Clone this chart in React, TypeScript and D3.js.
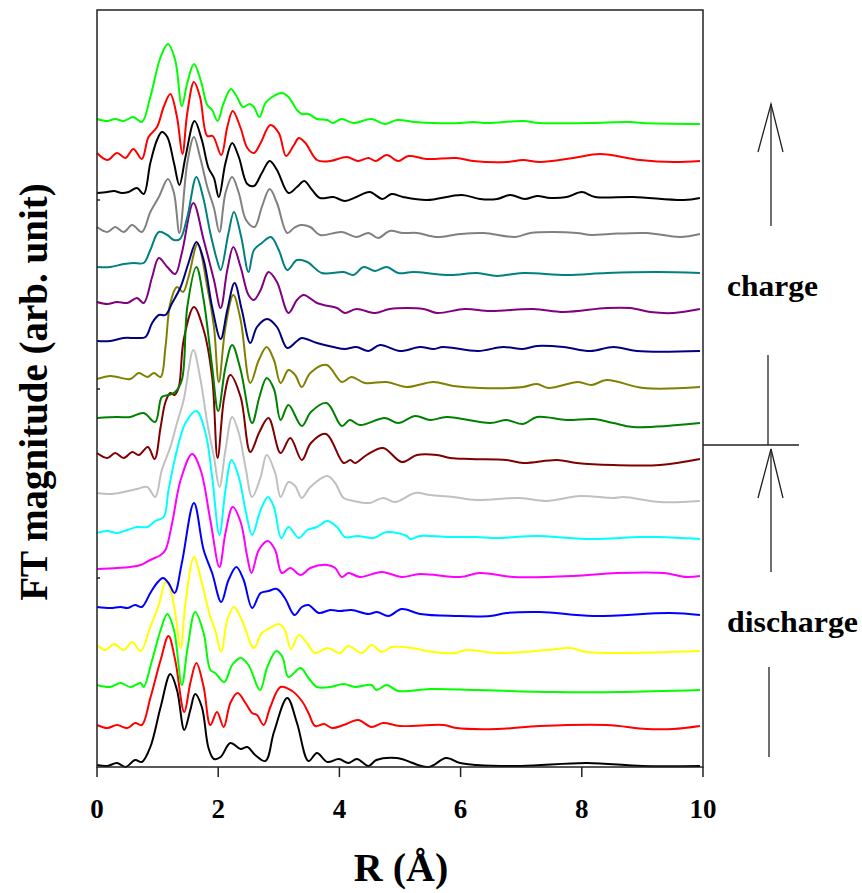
import React from "react";
import * as d3 from "d3";

type Pt = [number, number];

// R (Å) vs stacked FT magnitude (arb. unit), bottom curve first
const discharge1: Pt[] = [[0,2],[0.17,1],[0.33,4],[0.47,0],[0.63,7],[0.74,5],[0.88,20],[1.05,60],[1.21,93],[1.32,77],[1.44,37],[1.54,57],[1.62,73],[1.73,60],[1.84,19],[1.93,8],[2.04,10],[2.2,24],[2.37,18],[2.48,20],[2.61,12],[2.78,6],[2.92,35],[3.14,69],[3.3,44],[3.49,6],[3.63,14],[3.8,5],[3.99,8],[4.15,4],[4.29,8],[4.48,1],[4.61,7],[4.95,9],[5.47,0],[5.76,9],[5.99,4],[6.26,2],[7.0,1],[8.08,4],[9.0,1],[9.95,1]];
const discharge2: Pt[] = [[0,42],[0.17,39],[0.33,42],[0.5,39],[0.63,44],[0.74,42],[0.88,69],[1.05,107],[1.18,131],[1.29,107],[1.44,55],[1.54,84],[1.64,104],[1.76,80],[1.87,42],[1.98,55],[2.09,40],[2.2,64],[2.32,74],[2.45,64],[2.56,54],[2.64,52],[2.75,42],[2.86,60],[3.03,80],[3.22,76],[3.38,66],[3.49,54],[3.6,41],[3.75,43],[3.88,39],[4.07,42],[4.31,47],[4.53,40],[4.72,44],[5.0,41],[5.72,42],[5.93,39],[6.6,38],[7.31,41],[8.41,42],[9.07,38],[9.51,38],[9.95,41]];
const discharge3: Pt[] = [[0,82],[0.22,80],[0.39,84],[0.55,80],[0.72,84],[0.77,80],[0.91,107],[1.05,137],[1.16,153],[1.27,137],[1.4,82],[1.49,117],[1.62,155],[1.76,134],[1.87,97],[1.95,94],[2.1,85],[2.23,102],[2.37,109],[2.5,102],[2.69,77],[2.81,100],[2.96,116],[3.06,110],[3.16,90],[3.36,99],[3.49,89],[3.63,80],[3.85,80],[4.07,83],[4.26,80],[4.53,82],[4.61,77],[4.78,82],[4.97,76],[5.5,78],[6.26,77],[7.53,75],[8.63,75],[9.95,77]];
const discharge4: Pt[] = [[0,122],[0.14,117],[0.28,123],[0.44,117],[0.58,125],[0.72,116],[0.88,140],[1.02,162],[1.13,185],[1.2,180],[1.29,154],[1.38,119],[1.46,164],[1.6,210],[1.73,184],[1.87,150],[1.95,137],[2.05,115],[2.15,147],[2.26,160],[2.39,147],[2.59,119],[2.72,134],[2.86,139],[3.0,143],[3.1,137],[3.2,118],[3.33,132],[3.44,126],[3.6,114],[3.8,119],[4.01,114],[4.15,121],[4.37,114],[4.53,122],[4.7,115],[4.86,120],[5.19,119],[5.55,115],[5.91,114],[6.1,117],[6.6,114],[7.42,117],[7.81,119],[8.08,115],[9.95,116]];
const discharge5: Pt[] = [[0,160],[0.22,159],[0.39,160],[0.5,159],[0.63,162],[0.74,160],[0.88,174],[0.99,184],[1.09,189],[1.18,184],[1.28,174],[1.4,204],[1.6,264],[1.76,217],[1.9,194],[2.05,165],[2.17,187],[2.3,200],[2.42,187],[2.56,159],[2.7,174],[2.83,176],[2.97,178],[3.1,169],[3.26,152],[3.38,160],[3.49,162],[3.66,154],[3.85,157],[4.01,156],[4.2,157],[4.48,153],[4.62,155],[4.81,151],[5.03,158],[5.33,153],[5.91,151],[6.49,151],[6.76,154],[7.31,155],[8.19,151],[9.46,154],[9.95,152]];
const discharge6: Pt[] = [[0,198],[0.33,199],[0.55,200],[0.72,202],[0.88,207],[1.05,212],[1.13,217],[1.24,244],[1.38,287],[1.57,313],[1.71,297],[1.87,247],[2.02,200],[2.12,234],[2.24,260],[2.37,245],[2.48,210],[2.55,194],[2.67,217],[2.82,226],[2.94,217],[3.05,194],[3.19,199],[3.36,192],[3.52,199],[3.8,202],[3.93,199],[4.04,190],[4.15,194],[4.34,190],[4.7,195],[5.03,190],[5.33,193],[5.99,190],[6.32,194],[6.87,190],[7.86,191],[8.58,194],[9.35,194],[9.73,190],[9.95,191]];
const discharge7: Pt[] = [[0,234],[0.17,236],[0.33,234],[0.5,237],[0.66,240],[0.83,240],[0.96,246],[1.1,250],[1.18,277],[1.32,317],[1.46,344],[1.64,356],[1.79,334],[1.9,290],[2.02,232],[2.12,277],[2.22,307],[2.34,290],[2.46,254],[2.56,232],[2.7,257],[2.82,270],[2.92,260],[3.04,229],[3.16,240],[3.33,229],[3.47,237],[3.63,240],[3.8,246],[3.96,240],[4.09,230],[4.3,231],[4.56,229],[4.78,235],[5.11,231],[5.17,228],[5.33,231],[5.8,230],[6.26,230],[6.6,229],[7.26,231],[7.81,229],[8.19,228],[8.96,230],[9.29,230],[9.95,228]];
const discharge8: Pt[] = [[0,274],[0.22,273],[0.44,275],[0.66,278],[0.83,280],[0.96,270],[1.07,297],[1.21,320],[1.32,344],[1.43,367],[1.59,417],[1.7,390],[1.82,344],[1.93,310],[2.02,280],[2.12,317],[2.23,350],[2.34,334],[2.45,300],[2.56,270],[2.7,290],[2.8,312],[2.94,294],[3.03,270],[3.16,285],[3.27,281],[3.38,269],[3.52,280],[3.8,291],[3.93,284],[4.07,269],[4.24,266],[4.5,264],[4.72,269],[4.92,265],[5.25,274],[5.5,272],[5.88,270],[6.26,267],[6.98,269],[7.42,266],[7.97,271],[8.52,269],[8.69,270],[9.29,265],[9.95,266]];
const discharge9: Pt[] = [[0,314],[0.17,309],[0.3,314],[0.44,309],[0.58,315],[0.69,312],[0.84,320],[0.95,308],[1.05,340],[1.13,365],[1.21,374],[1.28,372],[1.35,380],[1.43,427],[1.6,460],[1.76,437],[1.9,390],[1.99,309],[2.1,370],[2.2,392],[2.37,370],[2.53,315],[2.68,335],[2.83,349],[3.03,314],[3.19,329],[3.38,307],[3.53,324],[3.78,333],[4.07,304],[4.18,307],[4.26,304],[4.45,312],[4.72,319],[5.03,305],[5.28,312],[5.61,312],[5.83,309],[6.16,308],[6.76,307],[7.03,304],[7.59,307],[7.92,304],[8.52,302],[9.29,302],[9.95,308]];
const charge1: Pt[] = [[0,349],[0.33,350],[0.55,350],[0.77,354],[0.96,345],[1.07,370],[1.18,372],[1.29,375],[1.4,387],[1.49,460],[1.64,500],[1.76,467],[1.9,400],[2.0,356],[2.12,400],[2.23,422],[2.37,397],[2.56,344],[2.68,370],[2.8,389],[2.92,378],[3.03,347],[3.16,362],[3.38,341],[3.53,355],[3.79,364],[4.04,341],[4.17,347],[4.34,342],[4.75,349],[4.97,344],[5.25,351],[5.5,347],[5.77,350],[6.49,344],[6.76,347],[7.03,343],[7.26,350],[7.75,347],[8.19,348],[8.52,344],[8.85,340],[9.95,344]];
const charge2: Pt[] = [[0,388],[0.22,391],[0.33,390],[0.55,388],[0.69,394],[0.83,390],[0.94,394],[1.05,390],[1.13,420],[1.21,464],[1.32,480],[1.42,475],[1.51,490],[1.66,523],[1.82,480],[1.93,440],[2.01,385],[2.12,440],[2.25,472],[2.37,447],[2.53,384],[2.67,407],[2.8,420],[2.92,407],[3.03,384],[3.16,397],[3.27,392],[3.38,380],[3.52,394],[3.79,402],[4.04,385],[4.2,390],[4.42,384],[4.78,385],[5.11,380],[5.55,385],[5.88,381],[6.32,379],[7.03,380],[7.26,383],[7.45,379],[7.94,385],[8.16,382],[8.41,387],[9.02,379],[9.95,380]];
const charge3: Pt[] = [[0,426],[0.22,426],[0.44,429],[0.66,429],[0.8,430],[0.91,444],[1.02,452],[1.13,452],[1.24,464],[1.38,480],[1.51,504],[1.64,525],[1.76,507],[1.9,460],[2.04,428],[2.15,457],[2.27,484],[2.39,457],[2.53,424],[2.64,440],[2.81,448],[2.97,440],[3.14,419],[3.3,426],[3.38,429],[3.63,424],[3.9,420],[4.09,418],[4.28,420],[4.48,416],[4.67,422],[5.0,416],[5.33,420],[5.55,418],[5.71,420],[6.29,416],[6.7,420],[7.03,418],[7.26,421],[7.7,420],[8.14,416],[8.52,420],[8.91,416],[9.95,416]];
const charge4: Pt[] = [[0,465],[0.17,463],[0.33,465],[0.5,464],[0.66,469],[0.77,464],[0.91,490],[1.02,509],[1.16,500],[1.29,493],[1.4,514],[1.59,564],[1.76,527],[1.93,487],[2.04,459],[2.15,497],[2.25,520],[2.37,500],[2.5,472],[2.59,467],[2.7,477],[2.83,495],[2.97,485],[3.16,454],[3.3,467],[3.41,472],[3.63,464],[3.74,462],[3.96,459],[4.09,454],[4.28,458],[4.59,454],[4.83,458],[5.39,458],[5.61,454],[6.07,458],[6.49,456],[7.2,458],[7.7,455],[8.41,459],[8.8,459],[9.13,455],[9.51,454],[9.95,458]];
const charge5: Pt[] = [[0,500],[0.22,500],[0.44,503],[0.6,504],[0.77,504],[0.88,517],[1.02,535],[1.16,532],[1.27,527],[1.37,528],[1.49,550],[1.64,590],[1.75,570],[1.87,534],[1.98,507],[2.04,497],[2.17,534],[2.26,555],[2.38,530],[2.5,495],[2.59,517],[2.72,524],[2.87,530],[3.0,517],[3.14,497],[3.3,507],[3.47,505],[3.71,494],[4.07,495],[4.23,492],[4.4,500],[4.59,496],[4.78,500],[4.97,494],[5.22,495],[5.83,492],[6.27,494],[6.6,491],[7.03,494],[7.75,492],[8.41,494],[9.24,495],[9.95,494]];
const charge6: Pt[] = [[0,540],[0.17,535],[0.3,540],[0.44,535],[0.58,542],[0.74,535],[0.88,555],[1.02,570],[1.17,588],[1.27,574],[1.36,534],[1.49,604],[1.6,630],[1.7,610],[1.82,580],[1.93,559],[2.02,535],[2.12,574],[2.23,590],[2.34,574],[2.46,547],[2.6,540],[2.72,560],[2.85,578],[2.97,564],[3.14,534],[3.25,539],[3.36,542],[3.52,540],[3.68,532],[4.04,535],[4.28,530],[4.48,534],[4.64,529],[4.83,536],[5.05,534],[5.28,534],[5.6,530],[5.99,533],[6.38,534],[6.9,530],[7.15,534],[7.53,535],[7.92,534],[8.16,532],[8.46,533],[9.07,534],[9.62,530],[9.95,533]];
const charge7: Pt[] = [[0,574],[0.17,575],[0.28,576],[0.41,574],[0.52,575],[0.66,579],[0.77,573],[0.88,604],[0.99,627],[1.07,635],[1.16,630],[1.27,604],[1.36,582],[1.46,610],[1.61,646],[1.73,627],[1.84,599],[1.93,589],[2.01,570],[2.12,604],[2.23,624],[2.34,610],[2.48,583],[2.59,581],[2.72,594],[2.85,606],[2.97,597],[3.16,574],[3.3,580],[3.42,586],[3.55,577],[3.68,569],[3.9,570],[4.09,566],[4.28,570],[4.5,575],[4.71,568],[4.86,573],[5.05,570],[5.44,567],[6.02,572],[6.32,568],[6.6,568],[6.82,572],[7.06,568],[7.26,571],[7.48,569],[7.75,570],[8.0,575],[8.22,570],[8.85,570],[9.68,567],[9.95,569]];
const charge8: Pt[] = [[0,614],[0.17,607],[0.33,614],[0.47,609],[0.6,618],[0.74,608],[0.85,630],[0.99,640],[1.1,660],[1.21,673],[1.32,650],[1.41,613],[1.49,654],[1.6,685],[1.7,670],[1.82,631],[1.91,631],[2.05,612],[2.15,640],[2.24,656],[2.37,639],[2.48,619],[2.59,614],[2.7,624],[2.86,642],[3.0,634],[3.12,611],[3.25,622],[3.33,629],[3.44,624],[3.63,607],[3.85,606],[4.12,610],[4.31,606],[4.48,609],[4.6,606],[4.78,612],[4.97,606],[5.14,611],[5.44,608],[5.93,609],[6.21,606],[6.76,605],[7.03,607],[7.31,605],[7.86,609],[8.3,613],[8.96,607],[9.51,605],[9.95,606]];
const charge9: Pt[] = [[0,648],[0.17,646],[0.3,648],[0.44,646],[0.6,650],[0.74,645],[0.88,670],[1.05,710],[1.17,723],[1.29,707],[1.4,661],[1.49,684],[1.6,703],[1.71,687],[1.82,662],[1.9,657],[1.99,646],[2.09,664],[2.21,678],[2.31,670],[2.41,660],[2.52,663],[2.59,660],[2.68,650],[2.78,664],[2.89,670],[3.05,674],[3.16,670],[3.3,657],[3.38,653],[3.49,653],[3.63,648],[3.8,647],[3.89,644],[4.04,648],[4.23,644],[4.53,648],[4.75,643],[4.95,647],[5.25,645],[5.55,644],[6.0,644],[6.2,645],[6.45,644],[7.03,646],[7.3,644],[8.1,644],[8.8,645],[9.0,644],[9.95,643]];

const series = [
  { data: discharge1, color: "#000000" },
  { data: discharge2, color: "#ff0000" },
  { data: discharge3, color: "#00ff00" },
  { data: discharge4, color: "#ffff00" },
  { data: discharge5, color: "#0000ff" },
  { data: discharge6, color: "#ff00ff" },
  { data: discharge7, color: "#00ffff" },
  { data: discharge8, color: "#c0c0c0" },
  { data: discharge9, color: "#800000" },
  { data: charge1, color: "#008000" },
  { data: charge2, color: "#808000" },
  { data: charge3, color: "#000080" },
  { data: charge4, color: "#800080" },
  { data: charge5, color: "#008080" },
  { data: charge6, color: "#808080" },
  { data: charge7, color: "#000000" },
  { data: charge8, color: "#ff0000" },
  { data: charge9, color: "#00ff00" },
];

const xTicks = [0, 2, 4, 6, 8, 10];
const yTicks = [189, 378, 567];

const serif = "'Liberation Serif', 'Times New Roman', serif";

export default function App() {
  const width = 862;
  const height = 893;
  const left = 97, right = 703, top = 10, bottom = 767;

  const x = d3.scaleLinear().domain([0, 10]).range([left, right]);
  const y = d3.scaleLinear().domain([0, 757]).range([bottom, top]);

  const line = d3
    .line<Pt>()
    .x((d) => x(d[0]))
    .y((d) => y(d[1]))
    .curve(d3.curveCatmullRom.alpha(0.5));

  const axisColor = "#222";

  return (
    <svg
      width={width}
      height={height}
      style={{ position: "absolute", left: 0, top: 0, background: "#fff" }}
    >
      {/* curves */}
      <g fill="none" strokeWidth={2} strokeLinejoin="round">
        {series.map((s, i) => (
          <path key={i} d={line(s.data) || ""} stroke={s.color} />
        ))}
      </g>

      {/* frame */}
      <rect x={left} y={top} width={right - left} height={bottom - top}
        fill="none" stroke={axisColor} strokeWidth={1.5} />

      {/* y ticks, inward, no labels */}
      {yTicks.map((t) => (
        <line key={t} x1={left} x2={left + 3} y1={y(t)} y2={y(t)} stroke={axisColor} strokeWidth={1.5} />
      ))}

      {/* x ticks */}
      {xTicks.map((t) => (
        <g key={t}>
          <line x1={x(t)} x2={x(t)} y1={bottom} y2={bottom + 10} stroke={axisColor} strokeWidth={1.5} />
          <text x={x(t)} y={818} textAnchor="middle" fontFamily={serif}
            fontWeight="bold" fontSize={27}>{t}</text>
        </g>
      ))}

      <text x={401} y={881} textAnchor="middle" fontFamily={serif}
        fontWeight="bold" fontSize={40}>R (Å)</text>

      <text transform="translate(47,392) rotate(-90)" textAnchor="middle"
        fontFamily={serif} fontWeight="bold" fontSize={39}>
        FT magnitude (arb. unit)
      </text>

      {/* charge / discharge annotation */}
      <g stroke={axisColor} strokeWidth={1.3} fill="none">
        <line x1={771} x2={771} y1={226} y2={104} />
        <polyline points="758,152 771,104 783,152" />
        <line x1={768} x2={768} y1={355} y2={445} />
        <line x1={703} x2={799} y1={445} y2={445} />
        <line x1={771} x2={771} y1={572} y2={449} />
        <polyline points="758,498 771,449 783,498" />
        <line x1={769} x2={769} y1={667} y2={757} />
      </g>
      <text x={727} y={296} fontFamily={serif} fontWeight="bold" fontSize={30}
        textLength={91} lengthAdjust="spacingAndGlyphs">charge</text>
      <text x={727} y={632} fontFamily={serif} fontWeight="bold" fontSize={30}
        textLength={131} lengthAdjust="spacingAndGlyphs">discharge</text>
    </svg>
  );
}
